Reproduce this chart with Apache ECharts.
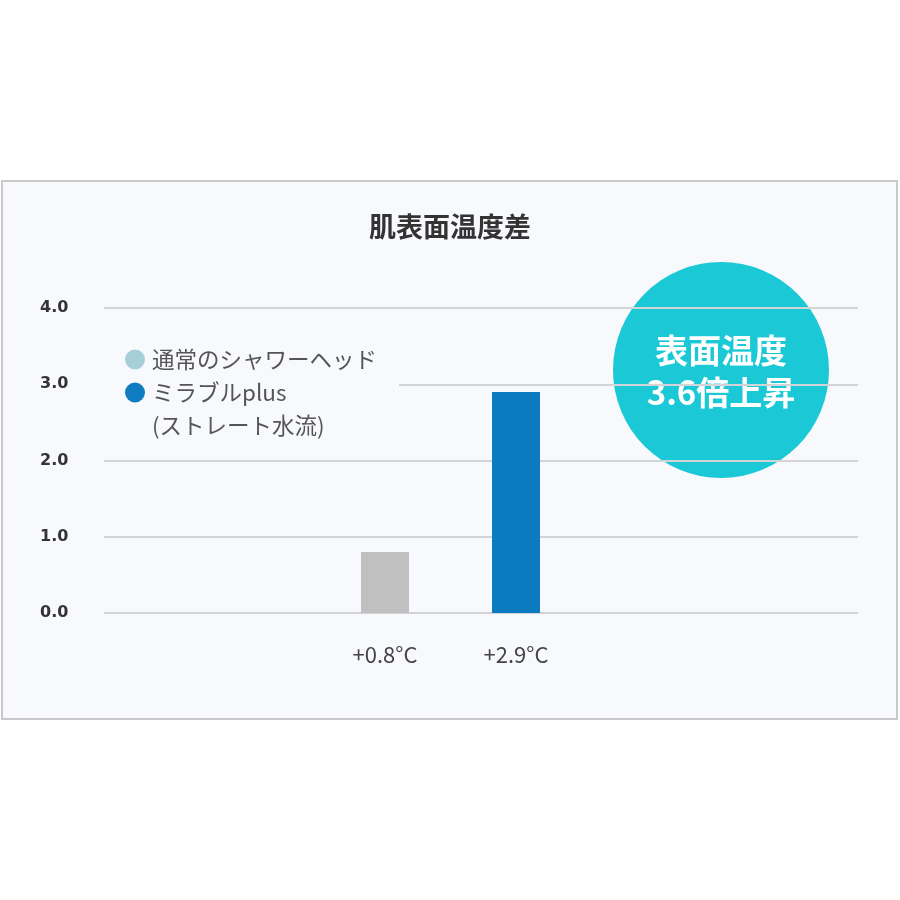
<!DOCTYPE html>
<html><head><meta charset="utf-8">
<script src="https://cdn.jsdelivr.net/npm/echarts@6/dist/echarts.min.js"></script>
<style>html,body{margin:0;padding:0;background:#fff}#c{width:900px;height:900px}</style>
</head><body><div id="c"></div>
<script>
const title = '肌表面温度差';
const categories = ['+0.8°C', '+2.9°C'];
const seriesNames = ['通常のシャワーヘッド', 'ミラブルplus', '(ストレート水流)'];
const normalValues = [0.8, '-'];
const mirableValues = ['-', 2.9];
const yTicks = [0, 1, 2, 3, 4];
const badgeLines = ['表面温度', '3.6倍上昇'];

const jp = '"Noto Sans CJK JP", "Noto Sans", sans-serif';
const chart = echarts.init(document.getElementById('c'));
chart.setOption({
  backgroundColor: '#ffffff',
  animation: false,
  title: {
    text: title, left: 'center', top: 208,
    textStyle: { fontFamily: jp, fontSize: 27, fontWeight: 'bold', color: '#333333' }
  },
  legend: {
    orient: 'vertical', left: 100, top: 338,
    padding: [5, 22, 8, 25], itemGap: 0,
    backgroundColor: '#f8f9fd',
    itemWidth: 20, itemHeight: 20, icon: 'circle',
    textStyle: { fontFamily: jp, fontSize: 22.5, color: '#555555', lineHeight: 33, height: 33, padding: [0, 0, 0, 2] },
    data: [
      { name: seriesNames[0], itemStyle: { color: '#a7cfd9' } },
      { name: seriesNames[1], itemStyle: { color: '#0f7bc0' } },
      { name: seriesNames[2], itemStyle: { opacity: 0 } }
    ],
    selectedMode: false
  },
  grid: [
    { left: 104, right: 42, top: 308, bottom: 287 },
    { left: 319.5, width: 262, top: 308, bottom: 287 }
  ],
  xAxis: [
    { gridIndex: 0, type: 'category', data: [''], show: false },
    { gridIndex: 1, type: 'category', data: categories,
      axisLine: { show: false }, axisTick: { show: false },
      axisLabel: { margin: 31, fontFamily: jp, fontSize: 22, color: '#444444' } }
  ],
  yAxis: [
    { gridIndex: 0, type: 'value', min: yTicks[0], max: yTicks[yTicks.length - 1], interval: 1,
      axisLine: { show: false }, axisTick: { show: false },
      splitLine: { lineStyle: { color: '#d2d4d8', width: 2 } },
      axisLabel: { formatter: v => v.toFixed(1), align: 'left', margin: 64,
        fontFamily: '"DejaVu Sans", sans-serif', fontSize: 16, fontWeight: 'bold', color: '#333333' } },
    { gridIndex: 1, type: 'value', min: yTicks[0], max: yTicks[yTicks.length - 1], interval: 1, show: false,
      splitLine: { show: false } }
  ],
  graphic: [
    { type: 'rect', z: -10, silent: true,
      shape: { x: 2, y: 181, width: 895, height: 538 },
      style: { fill: '#f8f9fd', stroke: '#c9c9c9', lineWidth: 2 } },
    { type: 'group', z: 100, children: [
      { type: 'circle', shape: { cx: 721, cy: 370, r: 108 }, style: { fill: '#1bc9d6' } },
      { type: 'text', x: 721, y: 350, style: { text: badgeLines[0], align: 'center', verticalAlign: 'middle',
        fill: '#ffffff', fontFamily: jp, fontSize: 33, fontWeight: 'bold' } },
      { type: 'text', x: 721, y: 392, style: { text: badgeLines[1], align: 'center', verticalAlign: 'middle',
        fill: '#ffffff', fontFamily: jp, fontSize: 33, fontWeight: 'bold' } }
    ] }
  ],
  series: [
    { name: seriesNames[0], type: 'bar', xAxisIndex: 1, yAxisIndex: 1, stack: 'a', barWidth: 48,
      itemStyle: { color: '#c0c0c0' }, data: normalValues },
    { name: seriesNames[1], type: 'bar', xAxisIndex: 1, yAxisIndex: 1, stack: 'a', barWidth: 48,
      itemStyle: { color: '#0b7abf' }, data: mirableValues },
    { name: seriesNames[2], type: 'line', xAxisIndex: 1, yAxisIndex: 1, data: [] }
  ]
});
</script></body></html>
